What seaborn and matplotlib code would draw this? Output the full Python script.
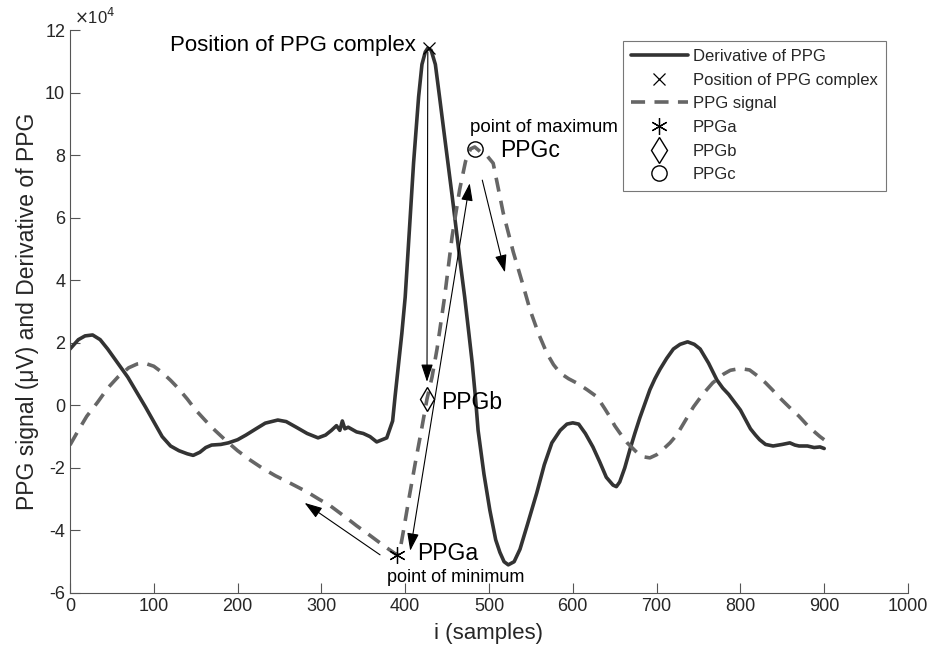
import matplotlib
matplotlib.use("Agg")
import matplotlib.pyplot as plt
import seaborn as sns
import pandas as pd
from matplotlib.lines import Line2D

# ---- data (values in units of 1e4) ----
deriv_x = [0, 10, 18, 27, 36, 45, 57, 69, 90, 110, 120, 130, 140, 147, 155, 162, 169, 180,
           189, 200, 210, 222, 233, 248, 258, 270, 283, 296, 305, 312, 318, 322, 325, 328,
           332, 342, 350, 358, 366, 378, 385, 388, 392, 396, 400, 405, 410, 416, 420, 424,
           427, 431, 436, 441, 446, 451, 456, 461, 466, 471, 476, 480, 484, 487, 494, 501,
           508, 513, 518, 523, 530, 537, 546, 557, 566, 575, 585, 593, 600, 607, 615, 624,
           632, 640, 648, 652, 656, 662, 668, 674, 680, 686, 692, 698, 704, 712, 720, 728,
           737, 745, 752, 762, 772, 779, 786, 793, 800, 806, 812, 818, 823, 830, 839, 850,
           859, 865, 870, 880, 888, 895, 900]
deriv_y = [1.8, 2.1, 2.22, 2.25, 2.1, 1.8, 1.35, 0.9, -0.05, -1.0, -1.3, -1.45, -1.55, -1.6,
           -1.5, -1.35, -1.27, -1.25, -1.2, -1.1, -0.95, -0.75, -0.57, -0.47, -0.52, -0.7,
           -0.9, -1.04, -0.95, -0.8, -0.65, -0.8, -0.5, -0.75, -0.7, -0.85, -0.9, -1.0,
           -1.17, -1.04, -0.5, 0.3, 1.3, 2.3, 3.46, 5.6, 7.75, 9.86, 10.9, 11.3, 11.42,
           11.35, 10.9, 9.86, 8.8, 7.75, 6.7, 5.6, 4.5, 3.46, 2.3, 1.35, 0.2, -0.8, -2.2,
           -3.35, -4.3, -4.7, -5.0, -5.1, -5.0, -4.6, -3.8, -2.8, -1.9, -1.2, -0.8, -0.6,
           -0.56, -0.6, -0.9, -1.33, -1.8, -2.3, -2.55, -2.6, -2.45, -2.0, -1.43, -0.9,
           -0.4, 0.05, 0.5, 0.85, 1.15, 1.5, 1.8, 1.95, 2.03, 1.95, 1.8, 1.35, 0.81, 0.55,
           0.35, 0.1, -0.15, -0.45, -0.75, -0.95, -1.1, -1.25, -1.3, -1.25, -1.2, -1.27,
           -1.3, -1.3, -1.35, -1.33, -1.38]

ppg_x = [0, 10, 20, 33, 45, 57, 70, 80, 89, 100, 110, 120, 129, 140, 150, 162, 173, 187,
         200, 215, 229, 245, 260, 283, 297, 310, 330, 342, 355, 365, 375, 383, 390, 394,
         398, 405, 412, 420, 426, 432, 438, 447, 456, 465, 472, 478, 483, 490, 497, 505,
         517, 529, 540, 549, 559, 569, 577, 585, 595, 605, 617, 629, 638, 645, 650, 656,
         665, 677, 685, 692, 700, 708, 716, 724, 734, 744, 755, 767, 780, 788, 796, 804,
         811, 820, 830, 838, 847, 858, 870, 882, 895, 900]
ppg_y = [-1.27, -0.8, -0.35, 0.1, 0.55, 0.9, 1.2, 1.32, 1.35, 1.25, 1.05, 0.8, 0.55, 0.2,
         -0.15, -0.5, -0.8, -1.15, -1.45, -1.75, -2.0, -2.25, -2.45, -2.77, -3.0, -3.2,
         -3.6, -3.85, -4.1, -4.3, -4.5, -4.65, -4.78, -4.6, -4.0, -2.9, -1.85, -0.7, 0.2,
         0.9, 1.8, 3.46, 5.4, 6.9, 7.8, 8.2, 8.26, 8.1, 8.0, 7.74, 6.15, 4.9, 3.9, 3.05,
         2.3, 1.67, 1.3, 1.03, 0.85, 0.71, 0.5, 0.27, -0.1, -0.4, -0.65, -0.88, -1.2,
         -1.52, -1.65, -1.68, -1.58, -1.4, -1.2, -0.95, -0.5, -0.05, 0.35, 0.72, 1.0, 1.12,
         1.16, 1.16, 1.13, 0.95, 0.72, 0.5, 0.24, -0.05, -0.35, -0.7, -1.0, -1.1]

complex_pt = (428, 11.42)
ppga_pt = (390, -4.8)
ppgb_pt = (426, 0.2)
ppgc_pt = (483, 8.2)

x_ticks = [0, 100, 200, 300, 400, 500, 600, 700, 800, 900, 1000]
y_ticks = [-6, -4, -2, 0, 2, 4, 6, 8, 10, 12]

# ---- style ----
sns.set_theme(style="ticks")
plt.rcParams['font.family'] = ['Liberation Sans', 'DejaVu Sans']
plt.rcParams['axes.unicode_minus'] = False

fig = plt.figure(figsize=(9.27, 6.58), dpi=100)
ax = fig.add_axes([0.0755, 0.0988, 0.904, 0.8556])

dark = '#333333'
grey = '#666666'

df_d = pd.DataFrame({'x': deriv_x, 'y': deriv_y})
df_p = pd.DataFrame({'x': ppg_x, 'y': ppg_y})
sns.lineplot(data=df_d, x='x', y='y', ax=ax, color=dark, lw=2.6, sort=False,
             estimator=None)
sns.lineplot(data=df_p, x='x', y='y', ax=ax, color=grey, lw=2.6, sort=False,
             estimator=None)
ax.lines[-1].set_dashes((3.9, 2.6))
for ln in ax.lines:
    ln.set_solid_joinstyle('round')
    ln.set_dash_joinstyle('round')

# markers
ax.plot(*complex_pt, marker='x', color='black', ms=8, mew=0.9, ls='none', zorder=5)
ax.plot(*ppga_pt, marker=(6, 2, 0), color='black', ms=12, mew=0.9, ls='none', zorder=5)
ax.plot(*ppgb_pt, marker='d', mfc='none', mec='black', ms=12, mew=1.0, ls='none', zorder=5)
ax.plot(*ppgc_pt, marker='o', mfc='none', mec='black', ms=11, mew=1.0, ls='none', zorder=5)

# arrows
ap = dict(arrowstyle='-|>,head_length=0.9,head_width=0.3', color='black', lw=0.8,
          shrinkA=0, shrinkB=0)
ap2 = dict(arrowstyle='<|-|>,head_length=0.9,head_width=0.3', color='black', lw=0.8,
           shrinkA=0, shrinkB=0)
ax.annotate('', xy=(426, 0.75), xytext=(427, 11.3), arrowprops=ap)
ax.annotate('', xy=(406, -4.65), xytext=(477, 7.1), arrowprops=ap2)
ax.annotate('', xy=(519, 4.25), xytext=(492, 7.2), arrowprops=ap)
ax.annotate('', xy=(280, -3.12), xytext=(370, -4.78), arrowprops=ap)

# texts
ax.text(413, 11.5, 'Position of PPG complex', ha='right', va='center', fontsize=16,
        color='black')
ax.text(513, 8.16, 'PPGc', ha='left', va='center', fontsize=16.5, color='black')
ax.text(477, 8.87, 'point of maximum', ha='left', va='center', fontsize=13.5,
        color='black')
ax.text(443, 0.1, 'PPGb', ha='left', va='center', fontsize=16.5, color='black')
ax.text(414, -4.75, 'PPGa', ha='left', va='center', fontsize=16.5, color='black')
ax.text(460, -5.5, 'point of minimum', ha='center', va='center', fontsize=13,
        color='black')
ax.text(5, 12.2, r'$\times$10$^4$', ha='left', va='baseline', fontsize=12,
        color='#262626')

# axes
ax.set_xlim(0, 1000)
ax.set_ylim(-6, 12)
ax.set_xticks(x_ticks)
ax.set_yticks(y_ticks)
ax.set_xlabel('i (samples)', fontsize=16, color='#262626', labelpad=6)
ax.set_ylabel('PPG signal (μV) and Derivative of PPG', fontsize=16.5, color='#262626',
              labelpad=4)
ax.tick_params(direction='in', length=7, width=0.8, colors='#555555',
               labelcolor='#262626', labelsize=13)
for s in ['top', 'right']:
    ax.spines[s].set_visible(False)
for s in ['left', 'bottom']:
    ax.spines[s].set_color('#555555')
    ax.spines[s].set_linewidth(0.8)

handles = [
    Line2D([], [], color=dark, lw=2.6),
    Line2D([], [], color='black', marker='x', ls='none', ms=8, mew=0.9),
    Line2D([], [], color=grey, lw=2.6, dashes=(3.9, 2.6)),
    Line2D([], [], color='black', marker=(6, 2, 0), ls='none', ms=12, mew=0.9),
    Line2D([], [], mfc='none', mec='black', marker='d', ls='none', ms=13, mew=1.0),
    Line2D([], [], mfc='none', mec='black', marker='o', ls='none', ms=11, mew=1.0),
]
labels = ['Derivative of PPG', 'Position of PPG complex', 'PPG signal', 'PPGa', 'PPGb',
          'PPGc']
leg = ax.legend(handles, labels, loc='upper right', bbox_to_anchor=(0.9835, 0.996),
                fontsize=12, handlelength=3.4, labelspacing=0.52, handletextpad=0.3,
                borderpad=0.5, fancybox=False, framealpha=1, edgecolor='#777777')
leg.get_frame().set_linewidth(0.8)

fig.savefig('out.png', dpi=100)
